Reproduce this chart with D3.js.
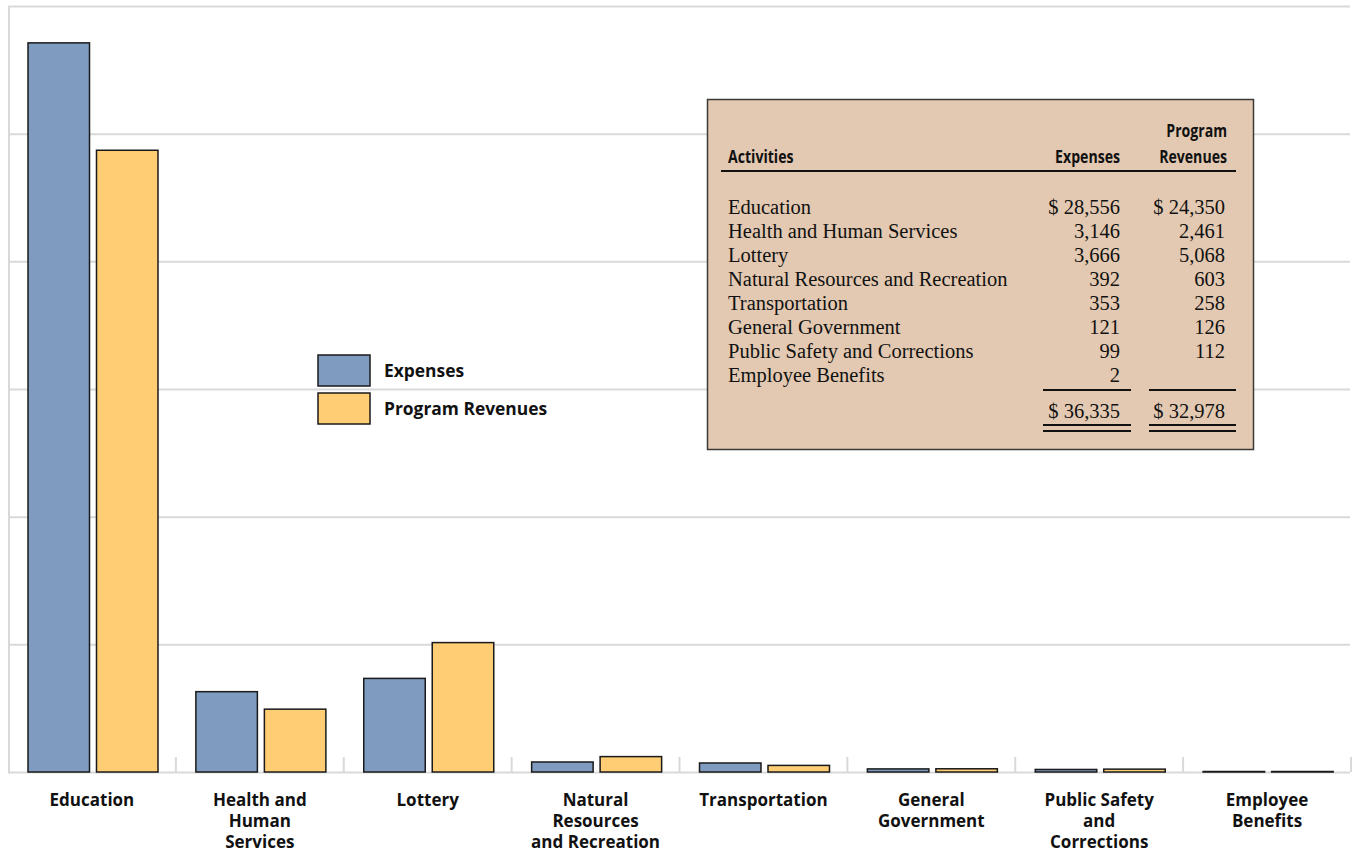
<!DOCTYPE html>
<html>
<head>
<meta charset="utf-8">
<script src="https://cdn.jsdelivr.net/npm/d3@7"></script>
<style>
    body { margin: 0; background: #fff; }
    svg { display: block; }
    .cat { font-family: "Open Sans", "Noto Sans", sans-serif; font-weight: bold; font-size: 17px; fill: #111; }
    .leg { font-family: "Open Sans", "Noto Sans", sans-serif; font-weight: bold; font-size: 17.4px; fill: #111; }
    .th { font-family: "Open Sans", "Noto Sans", sans-serif; font-weight: bold; font-size: 17px; fill: #111; }
    .td { font-family: "Liberation Serif", "DejaVu Serif", serif; font-size: 20.5px; fill: #111; }
</style>
</head>
<body>
<svg id="plate" width="1353" height="853"></svg>
<script>
// activities, in chart order
var categories = ['Education', 'Health and Human Services', 'Lottery', 'Natural Resources and Recreation',
    'Transportation', 'General Government', 'Public Safety and Corrections', 'Employee Benefits'];
// how the labels under the axis are broken
var catLines = [['Education'], ['Health and', 'Human', 'Services'], ['Lottery'], ['Natural', 'Resources', 'and Recreation'],
    ['Transportation'], ['General', 'Government'], ['Public Safety', 'and', 'Corrections'], ['Employee', 'Benefits']];
var expenses = [28556, 3146, 3666, 392, 353, 121, 99, 2];
var revenues = [24350, 2461, 5068, 603, 258, 126, 112, null];
var series = ['Expenses', 'Program Revenues'];
var gridTicks = [0, 5000, 10000, 15000, 20000, 25000, 30000];

var colors = {'Expenses': '#7f9bc0', 'Program Revenues': '#fecd74'};

var svg = d3.select('#plate');

// set the ranges
var x = d3.scaleBand().domain(categories).range([8, 1351]).padding(0);
var xSub = d3.scaleBand().domain(series).range([20, 150]).paddingInner(0.102);
var y = d3.scaleLinear().domain([0, 30000]).range([772, 6]);

// horizontal gridlines
svg.append('g')
    .attr('class', 'grid')
    .attr('transform', 'translate(8,0)')
    .call(d3.axisLeft(y).tickValues(gridTicks).tickSize(-1342).tickFormat(''))
    .call(function(g) { g.select('.domain').remove(); })
    .selectAll('line')
    .attr('stroke', '#d9d9d9')
    .attr('stroke-width', 2);

// left frame line
svg.append('line')
    .attr('x1', 9).attr('x2', 9)
    .attr('y1', y(30000)).attr('y2', y(0))
    .attr('stroke', '#d9d9d9').attr('stroke-width', 2);

// short ticks between the categories
var bounds = categories.slice(1).map(function(c) { return x(c); }).concat([x.range()[1]]);
svg.append('g').selectAll('line')
    .data(bounds)
    .enter().append('line')
    .attr('x1', function(d) { return d; })
    .attr('x2', function(d) { return d; })
    .attr('y1', y(0))
    .attr('y2', y(0) - 15)
    .attr('stroke', '#d9d9d9').attr('stroke-width', 2);

// bars
var rows = categories.map(function(c, i) {
    return {cat: c, values: [{s: 'Expenses', v: expenses[i]}, {s: 'Program Revenues', v: revenues[i] || 0}]};
});

var groups = svg.append('g').selectAll('g')
    .data(rows)
    .enter().append('g')
    .attr('transform', function(d) { return 'translate(' + x(d.cat) + ',0)'; });

// a zero bar still shows as a thin outline, as in the source
groups.selectAll('rect')
    .data(function(d) { return d.values; })
    .enter().append('rect')
    .attr('x', function(d) { return xSub(d.s); })
    .attr('width', xSub.bandwidth())
    .attr('y', function(d) { return Math.min(y(d.v), y(0) - 0.5); })
    .attr('height', function(d) { return Math.max(y(0) - y(d.v), 0.5); })
    .attr('fill', function(d) { return colors[d.s]; })
    .attr('stroke', '#1a1a1a')
    .attr('stroke-width', 1.5);

// category labels
var labels = svg.append('g').selectAll('text')
    .data(categories)
    .enter().append('text')
    .attr('class', 'cat')
    .attr('text-anchor', 'middle')
    .attr('x', function(d) { return x(d) + x.bandwidth() / 2; })
    .attr('y', 806);
labels.selectAll('tspan')
    .data(function(d, i) { return catLines[i]; })
    .enter().append('tspan')
    .attr('x', function() { return d3.select(this.parentNode).attr('x'); })
    .attr('dy', function(d, i) { return i === 0 ? 0 : 21; })
    .text(function(d) { return d; });

// legend
var legend = svg.append('g').attr('transform', 'translate(318,355)');
series.forEach(function(s, i) {
    legend.append('rect')
        .attr('x', 0).attr('y', i * 38)
        .attr('width', 52).attr('height', 31)
        .attr('fill', colors[s])
        .attr('stroke', '#1a1a1a').attr('stroke-width', 1.5);
    legend.append('text')
        .attr('class', 'leg')
        .attr('x', 66).attr('y', i * 38 + 22)
        .text(s);
});

// data table panel
var fmt = d3.format(',');
var tbl = svg.append('g');
tbl.append('rect')
    .attr('x', 707.5).attr('y', 99.5)
    .attr('width', 546).attr('height', 350)
    .attr('fill', '#e3c9b1')
    .attr('stroke', '#3a3a3a').attr('stroke-width', 1.5);

var colExp = 1120, colRev = 1225;

// condensed header text: squeeze a bold sans horizontally
function header(txt, hx, hy, anchor) {
    tbl.append('text').attr('class', 'th')
        .attr('transform', 'translate(' + hx + ',' + hy + ') scale(0.83,1)')
        .attr('text-anchor', anchor)
        .text(txt);
}
header('Activities', 728, 163, 'start');
header('Expenses', colExp, 163, 'end');
header('Program', colRev + 2, 137, 'end');
header('Revenues', colRev + 2, 163, 'end');
tbl.append('line').attr('x1', 721).attr('x2', 1236).attr('y1', 171).attr('y2', 171)
    .attr('stroke', '#111').attr('stroke-width', 2);

categories.forEach(function(c, i) {
    var yy = 214 + i * 24;
    tbl.append('text').attr('class', 'td').attr('x', 728).attr('y', yy).text(c);
    tbl.append('text').attr('class', 'td').attr('x', colExp).attr('y', yy).attr('text-anchor', 'end')
        .text((i === 0 ? '$ ' : '') + fmt(expenses[i]));
    if (revenues[i] != null) {
        tbl.append('text').attr('class', 'td').attr('x', colRev).attr('y', yy).attr('text-anchor', 'end')
            .text((i === 0 ? '$ ' : '') + fmt(revenues[i]));
    }
});

// totals with rules
var totals = [d3.sum(expenses), d3.sum(revenues)];
[[1043, 1131, colExp], [1149, 1236, colRev]].forEach(function(c, i) {
    tbl.append('line').attr('x1', c[0]).attr('x2', c[1]).attr('y1', 390).attr('y2', 390)
        .attr('stroke', '#111').attr('stroke-width', 2);
    tbl.append('text').attr('class', 'td').attr('x', c[2]).attr('y', 418).attr('text-anchor', 'end')
        .text('$ ' + fmt(totals[i]));
    [425, 431].forEach(function(yy) {
        tbl.append('line').attr('x1', c[0]).attr('x2', c[1]).attr('y1', yy).attr('y2', yy)
            .attr('stroke', '#111').attr('stroke-width', 2);
    });
});
</script>
</body>
</html>
